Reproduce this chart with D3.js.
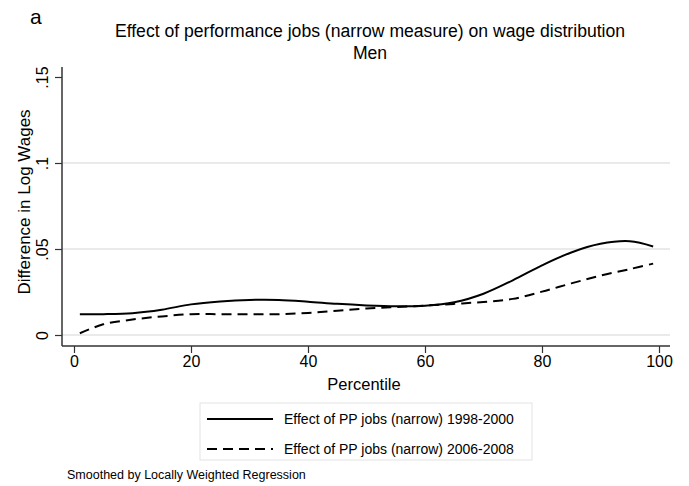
<!DOCTYPE html>
<html>
<head>
<meta charset="utf-8">
<script src="https://cdn.jsdelivr.net/npm/d3@7"></script>
<style>
  body { margin: 0; background: #fff; }
  text { font-family: "Liberation Sans", Arial, sans-serif; fill: #000; }
</style>
</head>
<body>
<div id="chart"></div>
<script>
// percentiles at which the smoothed curves were read
var percentiles = [1, 5, 10, 15, 20, 25, 30, 35, 40, 45, 50, 55, 60, 65, 70, 75, 80, 85, 90, 95, 99];

// Effect of PP jobs (narrow) 1998-2000
var effect9800 = [0.0120, 0.0121, 0.0127, 0.0147, 0.0178, 0.0195, 0.0204, 0.0204, 0.0194, 0.0181, 0.0172,
                  0.0167, 0.0170, 0.0190, 0.0240, 0.0318, 0.0405, 0.0480, 0.0530, 0.0545, 0.0515];

// Effect of PP jobs (narrow) 2006-2008
var effect0608 = [0.0010, 0.0062, 0.0090, 0.0108, 0.0121, 0.0121, 0.0120, 0.0121, 0.0128, 0.0141, 0.0154,
                  0.0163, 0.0171, 0.0181, 0.0192, 0.0210, 0.0252, 0.0300, 0.0345, 0.0383, 0.0415];

var xTicks = [0, 20, 40, 60, 80, 100];
var yTicks = [0, 0.05, 0.1, 0.15];
var yTickLabels = ["0", ".05", ".1", ".15"];
var gridValues = [0, 0.05, 0.1];

var seriesNames = ["Effect of PP jobs (narrow) 1998-2000", "Effect of PP jobs (narrow) 2006-2008"];

var svgWidth = 689, svgHeight = 486;

var svg = d3.select("#chart").append("svg")
  .attr("width", svgWidth)
  .attr("height", svgHeight);

// scales
var xScale = d3.scaleLinear().domain([0, 100]).range([74, 659]);
var yScale = d3.scaleLinear().domain([0, 0.15]).range([335, 77]);

var axisLeftX = 62, axisBottomY = 346;

// gridlines
svg.selectAll(".grid")
  .data(gridValues)
  .enter()
  .append("line")
  .attr("x1", axisLeftX)
  .attr("x2", 670)
  .attr("y1", d => yScale(d))
  .attr("y2", d => yScale(d))
  .attr("stroke", "#e3e3e3")
  .attr("stroke-width", 1.5);

// y axis
var leftAxis = d3.axisLeft(yScale)
  .tickValues(yTicks)
  .tickSize(7)
  .tickSizeOuter(0)
  .tickFormat((d, i) => yTickLabels[i]);

var yAxisG = svg.append("g")
  .attr("transform", `translate(${axisLeftX},0)`)
  .call(leftAxis);
yAxisG.select(".domain").remove();
yAxisG.selectAll("line").attr("stroke", "#333").attr("stroke-width", 1.2);
yAxisG.selectAll("text")
  .attr("font-size", 16)
  .attr("x", null).attr("dy", null)
  .attr("text-anchor", "middle")
  .attr("transform", "translate(-14,0) rotate(-90)");

svg.append("line")
  .attr("x1", axisLeftX).attr("x2", axisLeftX)
  .attr("y1", 67).attr("y2", axisBottomY)
  .attr("stroke", "#333").attr("stroke-width", 1.5);

// x axis
var bottomAxis = d3.axisBottom(xScale)
  .tickValues(xTicks)
  .tickSize(7)
  .tickSizeOuter(0);

var xAxisG = svg.append("g")
  .attr("transform", `translate(0,${axisBottomY})`)
  .call(bottomAxis);
xAxisG.select(".domain").remove();
xAxisG.selectAll("line").attr("stroke", "#333").attr("stroke-width", 1.2);
xAxisG.selectAll("text").attr("font-size", 16).attr("y", 10);

svg.append("line")
  .attr("x1", axisLeftX).attr("x2", 670)
  .attr("y1", axisBottomY).attr("y2", axisBottomY)
  .attr("stroke", "#333").attr("stroke-width", 1.5);

// curves
var line = d3.line()
  .x(d => xScale(d[0]))
  .y(d => yScale(d[1]))
  .curve(d3.curveCatmullRom);

svg.append("path")
  .datum(d3.zip(percentiles, effect9800))
  .attr("d", line)
  .attr("fill", "none")
  .attr("stroke", "#000")
  .attr("stroke-width", 2);

svg.append("path")
  .datum(d3.zip(percentiles, effect0608))
  .attr("d", line)
  .attr("fill", "none")
  .attr("stroke", "#000")
  .attr("stroke-width", 2)
  .attr("stroke-dasharray", "10,6");

// titles
svg.append("text")
  .attr("x", 30).attr("y", 24)
  .attr("font-size", 21)
  .text("a");

svg.append("text")
  .attr("x", 370).attr("y", 37)
  .attr("text-anchor", "middle")
  .attr("font-size", 17.6)
  .text("Effect of performance jobs (narrow measure) on wage distribution");

svg.append("text")
  .attr("x", 370).attr("y", 59)
  .attr("text-anchor", "middle")
  .attr("font-size", 17.6)
  .text("Men");

svg.append("text")
  .attr("transform", "translate(30,202) rotate(-90)")
  .attr("text-anchor", "middle")
  .attr("font-size", 17)
  .text("Difference in Log Wages");

svg.append("text")
  .attr("x", 364).attr("y", 390)
  .attr("text-anchor", "middle")
  .attr("font-size", 16.5)
  .text("Percentile");

// legend
svg.append("rect")
  .attr("x", 200).attr("y", 403)
  .attr("width", 332).attr("height", 57)
  .attr("fill", "#fff")
  .attr("stroke", "#e3e3e3")
  .attr("stroke-width", 1);

var legendY = [419, 449];
var legendDash = [null, "10,6"];

seriesNames.forEach(function(name, i) {
  svg.append("line")
    .attr("x1", 207).attr("x2", 273)
    .attr("y1", legendY[i]).attr("y2", legendY[i])
    .attr("stroke", "#000")
    .attr("stroke-width", 2)
    .attr("stroke-dasharray", legendDash[i]);
  svg.append("text")
    .attr("x", 284).attr("y", legendY[i] + 5)
    .attr("font-size", 14)
    .text(name);
});

svg.append("text")
  .attr("x", 67).attr("y", 479)
  .attr("font-size", 12.5)
  .text("Smoothed by Locally Weighted Regression");
</script>
</body>
</html>
